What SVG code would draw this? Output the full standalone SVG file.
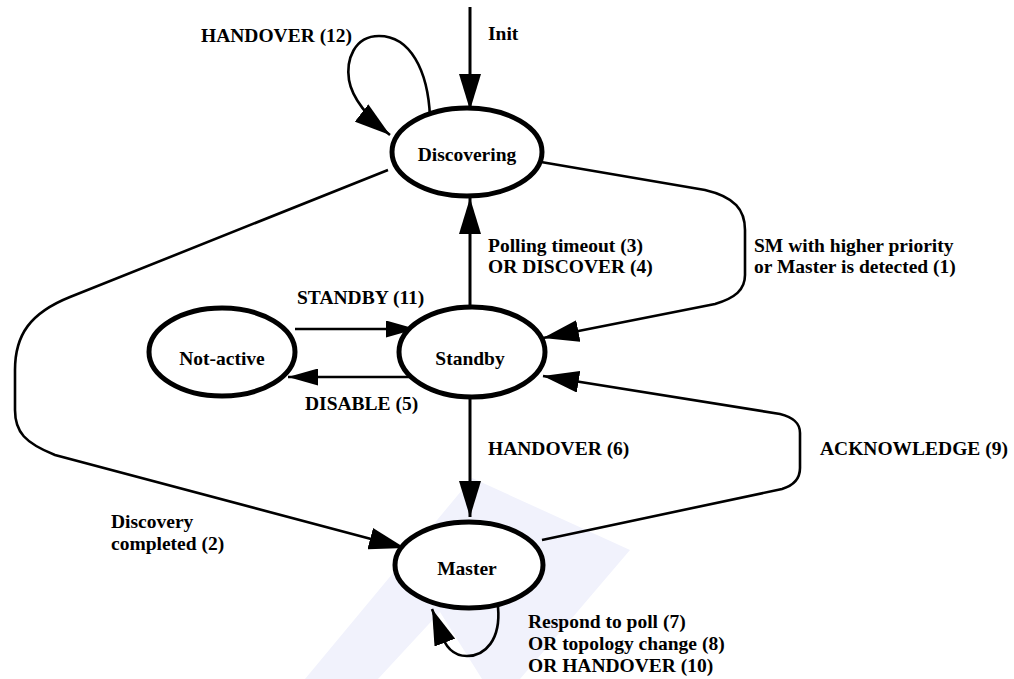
<svg xmlns="http://www.w3.org/2000/svg" width="1014" height="679" viewBox="0 0 1014 679">
<style>
.node{fill:#fff;stroke:#000;stroke-width:5}
.edge{fill:none;stroke:#000;stroke-width:2.6}
.vedge{fill:none;stroke:#000;stroke-width:3}
.c{text-anchor:middle}
.wm{fill:#f1f2fc;stroke:none;fill-rule:evenodd}
</style>
<defs>
<marker id="ah" viewBox="0 0 36 22" refX="36" refY="11" markerWidth="36" markerHeight="22" markerUnits="userSpaceOnUse" orient="auto">
<path d="M0,0 L36,11 L0,22 z" fill="#000"/>
</marker>
<marker id="ahs" viewBox="0 0 30 17" refX="30" refY="8.5" markerWidth="30" markerHeight="17" markerUnits="userSpaceOnUse" orient="auto">
<path d="M0,0 L30,8.5 L0,17 z" fill="#000"/>
</marker>
</defs>
<rect width="1014" height="679" fill="#fff"/>
<g id="watermark">
<path class="wm" d="M305,679 L472,478 L630,550 L520,679 Z M378,679 L440,612 L482,679 Z"/>
</g>
<g id="connectors">
<path class="vedge" d="M470,7 L470,110" marker-end="url(#ah)"/>
<path class="edge" d="M430,117 C428,70 410,36 379,36 C354,36 346,60 349,80 C352,98 368,118 390,135" marker-end="url(#ah)"/>
<path class="vedge" d="M470,307 L470,198" marker-end="url(#ah)"/>
<path class="vedge" d="M470,397 L470,517" marker-end="url(#ah)"/>
<path class="edge" d="M541,162 L705,190 C735,197 745,210 745,230 L745,275 C745,290 735,298 715,304 L543,338" marker-end="url(#ah)"/>
<path class="edge" d="M542,540 L782,489 C795,485 800,478 800,468 L800,433 C800,422 792,417 780,414 L543,376" marker-end="url(#ah)"/>
<path class="edge" d="M388,170 L70,297 C30,313 15,335 15,370 L15,410 C15,432 25,443 55,455 L405,548" marker-end="url(#ah)"/>
<path class="edge" d="M295,329 L416,329" marker-end="url(#ahs)"/>
<path class="edge" d="M410,377 L288,377" marker-end="url(#ahs)"/>
<path class="edge" d="M498,607 C501,640 485,656 467,656 C452,656 444,645 440,630 L432,609" marker-end="url(#ah)"/>
</g>
<g font-family="Liberation Serif, Times New Roman, serif" font-weight="bold" font-size="19.5" fill="#000">
<g id="discovering">
<ellipse class="node" cx="467" cy="152" rx="75" ry="44"/>
<text class="c" x="467" y="161">Discovering</text>
</g>
<g id="standby">
<ellipse class="node" cx="472" cy="352" rx="73" ry="45"/>
<text class="c" x="470" y="365">Standby</text>
</g>
<g id="not-active">
<ellipse class="node" cx="222" cy="352" rx="73" ry="44"/>
<text class="c" x="222" y="365">Not-active</text>
</g>
<g id="master">
<ellipse class="node" cx="469" cy="565" rx="74" ry="43"/>
<text class="c" x="467" y="575">Master</text>
</g>
<g id="labels">
<text x="488" y="40">Init</text>
<text x="201" y="42">HANDOVER (12)</text>
<text x="488" y="252">Polling timeout (3)</text>
<text x="488" y="273">OR DISCOVER (4)</text>
<text x="754" y="252">SM with higher priority</text>
<text x="754" y="273">or Master is detected (1)</text>
<text x="297" y="304">STANDBY (11)</text>
<text x="305" y="410">DISABLE (5)</text>
<text x="488" y="455">HANDOVER (6)</text>
<text x="820" y="455">ACKNOWLEDGE (9)</text>
<text x="111" y="528">Discovery</text>
<text x="111" y="550">completed (2)</text>
<text x="528" y="628">Respond to poll (7)</text>
<text x="528" y="650">OR topology change (8)</text>
<text x="528" y="672">OR HANDOVER (10)</text>
</g>
</g>
</svg>
